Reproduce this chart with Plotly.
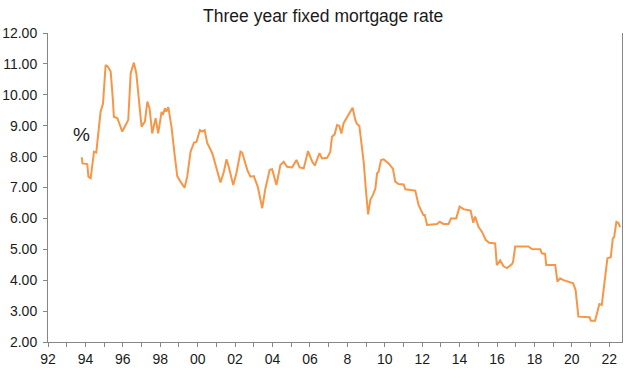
import plotly.graph_objects as go

# Three year fixed mortgage rate (%) (decimal years)
years = [1993.81, 1993.84, 1994.10, 1994.16, 1994.28, 1994.37, 1994.46, 1994.58, 1994.69, 1994.81,
         1994.94, 1995.08, 1995.20, 1995.35, 1995.47, 1995.52, 1995.71, 1995.97, 1996.15, 1996.29,
         1996.42, 1996.59, 1996.72, 1996.86, 1997.00, 1997.18, 1997.31, 1997.43, 1997.57, 1997.75,
         1997.89, 1998.07, 1998.14, 1998.25, 1998.32, 1998.43, 1998.60, 1998.78, 1998.91, 1999.08,
         1999.30, 1999.44, 1999.62, 1999.80, 1999.94, 2000.12, 2000.24, 2000.37, 2000.51, 2000.78,
         2000.95, 2001.08, 2001.22, 2001.40, 2001.54, 2001.66, 2001.90, 2002.07, 2002.29, 2002.38,
         2002.65, 2002.82, 2003.00, 2003.21, 2003.45, 2003.62, 2003.85, 2003.98, 2004.21, 2004.42,
         2004.60, 2004.78, 2005.05, 2005.28, 2005.45, 2005.67, 2005.90, 2006.12, 2006.26, 2006.51,
         2006.65, 2006.92, 2007.09, 2007.18, 2007.32, 2007.45, 2007.57, 2007.68, 2007.80, 2008.07,
         2008.28, 2008.43, 2008.52, 2008.64, 2008.75, 2008.87, 2009.00, 2009.11, 2009.23, 2009.37,
         2009.50, 2009.59, 2009.67, 2009.80, 2009.94, 2010.21, 2010.44, 2010.56, 2010.74, 2011.01,
         2011.10, 2011.63, 2011.81, 2012.06, 2012.14, 2012.26, 2012.79, 2012.93, 2013.14, 2013.41,
         2013.54, 2013.82, 2014.00, 2014.21, 2014.59, 2014.73, 2014.83, 2015.01, 2015.19, 2015.40,
         2015.58, 2015.90, 2015.99, 2016.17, 2016.35, 2016.53, 2016.80, 2016.86, 2016.97, 2017.68,
         2017.86, 2018.31, 2018.40, 2018.57, 2018.63, 2019.11, 2019.23, 2019.37, 2019.52, 2019.82,
         2020.07, 2020.20, 2020.35, 2020.95, 2021.01, 2021.24, 2021.36, 2021.47, 2021.60, 2021.78,
         2021.90, 2022.08, 2022.19, 2022.26, 2022.38, 2022.49, 2022.58]
rates = [7.98, 7.78, 7.76, 7.35, 7.30, 7.74, 8.16, 8.13, 8.70, 9.45,
         9.72, 10.96, 10.91, 10.75, 9.83, 9.29, 9.24, 8.81, 9.02, 9.19,
         10.70, 11.04, 10.70, 9.72, 8.97, 9.13, 9.78, 9.56, 8.75, 9.24,
         8.75, 9.45, 9.35, 9.56, 9.46, 9.60, 8.97, 8.00, 7.37, 7.19,
         6.99, 7.35, 8.16, 8.45, 8.48, 8.86, 8.81, 8.86, 8.44, 8.11,
         7.78, 7.46, 7.16, 7.51, 7.91, 7.67, 7.08, 7.46, 8.16, 8.13,
         7.57, 7.35, 7.37, 7.03, 6.33, 6.97, 7.57, 7.59, 7.08, 7.73,
         7.83, 7.67, 7.65, 7.89, 7.65, 7.62, 8.18, 7.84, 7.71, 8.11,
         7.94, 7.96, 8.16, 8.64, 8.72, 9.02, 9.00, 8.75, 9.08, 9.35,
         9.58, 9.18, 9.05, 9.00, 8.48, 7.84, 6.86, 6.13, 6.60, 6.76,
         6.97, 7.46, 7.51, 7.89, 7.91, 7.78, 7.60, 7.19, 7.11, 7.10,
         6.94, 6.90, 6.43, 6.11, 6.11, 5.79, 5.82, 5.89, 5.82, 5.82,
         6.00, 6.00, 6.38, 6.30, 6.25, 5.86, 6.06, 5.73, 5.57, 5.30,
         5.21, 5.19, 4.49, 4.64, 4.45, 4.39, 4.52, 4.60, 5.09, 5.09,
         5.01, 5.00, 4.87, 4.85, 4.49, 4.49, 3.95, 4.06, 4.01, 3.95,
         3.90, 3.68, 2.82, 2.80, 2.69, 2.69, 2.93, 3.23, 3.20, 4.01,
         4.71, 4.74, 5.36, 5.39, 5.89, 5.85, 5.72]

tick_years = list(range(1992, 2023))
tick_labels = ["92", "", "94", "", "96", "", "98", "", "00", "", "02", "", "04", "", "06", "",
               "8", "", "10", "", "12", "", "14", "", "16", "", "18", "", "20", "", "22"]
y_ticks = [2, 3, 4, 5, 6, 7, 8, 9, 10, 11, 12]

title_text = "Three year fixed mortgage rate"
unit_label = "%"

axis_grey = "#868686"
text_col = "#1a1a1a"
font_fam = "Liberation Sans, Arial, sans-serif"

fig = go.Figure()
fig.add_trace(go.Scatter(x=years, y=rates, mode="lines",
                         line=dict(color="#F79646", width=2), showlegend=False,
                         hoverinfo="x+y"))

fig.add_annotation(x=1993.8, y=8.72, text=unit_label, showarrow=False,
                   font=dict(size=19, color=text_col, family=font_fam),
                   xanchor="center", yanchor="middle")

fig.update_layout(
    width=635, height=387,
    margin=dict(l=48, r=13, t=33, b=45, autoexpand=False),
    paper_bgcolor="white", plot_bgcolor="white",
    font=dict(family=font_fam, size=14, color=text_col),
    title=dict(text=title_text, x=0.509, xref="container", xanchor="center",
               y=1 - 16 / 387, yref="container", yanchor="middle",
               font=dict(size=17.5, color=text_col, family=font_fam)),
    showlegend=False,
)
fig.update_xaxes(range=[1992, 2022.68], tickmode="array", tickvals=tick_years,
                 ticktext=tick_labels, ticks="outside", ticklen=4, tickcolor=axis_grey,
                 showline=True, linecolor=axis_grey, linewidth=1, showgrid=False,
                 zeroline=False, automargin=False, tickfont=dict(size=14, color=text_col))
fig.update_yaxes(range=[2, 12], tickmode="array", tickvals=y_ticks,
                 ticktext=[f"{v:.2f}" for v in y_ticks], ticks="outside", ticklen=4,
                 tickcolor=axis_grey, showline=True, linecolor=axis_grey, linewidth=1,
                 mirror=True, showgrid=False, zeroline=False, automargin=False,
                 ticklabelstandoff=3, tickfont=dict(size=14, color=text_col))

# remove the browser's default 8px page margin so the figure sits at the window origin
fig.write_html("out.html", config={"displayModeBar": False},
               post_script="document.body.style.margin='0px';")
